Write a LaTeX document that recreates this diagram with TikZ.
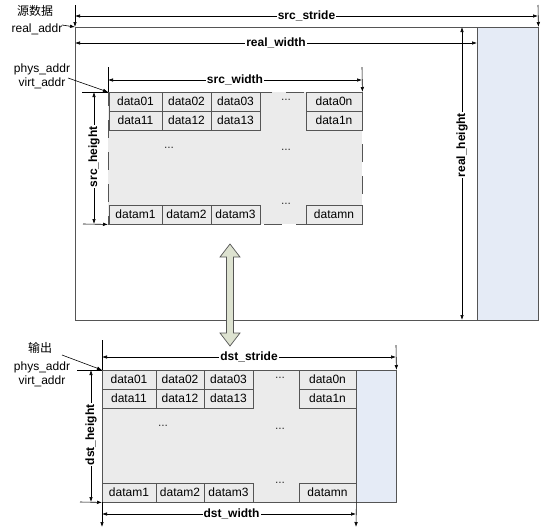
\documentclass[tikz,border=0pt]{standalone}
\usepackage{fontspec}
\setmainfont{Liberation Sans}
\newfontfamily\cjk{Noto Sans CJK SC}
\usetikzlibrary{arrows.meta}
\definecolor{regiongrey}{HTML}{EBEBEB}
\definecolor{padblue}{HTML}{E5EBF6}
\definecolor{edgegrey}{HTML}{555555}
\definecolor{arrowfill}{HTML}{DDE2D0}
\tikzset{
  cell/.style={draw=edgegrey, fill=regiongrey, inner sep=0pt, minimum height=19pt, font=\fontsize{12}{14}\selectfont},
  region/.style={fill=regiongrey, inner sep=0pt, anchor=north west},
  padbox/.style={draw=edgegrey, fill=padblue, inner sep=0pt, anchor=north west},
  dim/.style={draw=black, line width=0.6pt, {Latex[length=5pt,width=3.5pt]}-{Latex[length=5pt,width=3.5pt]}},
  ext/.style={draw=black, line width=0.6pt},
  exttip/.style={draw=black, line width=0.6pt, -{Latex[length=5pt,width=3.5pt]}},
  dimlbl/.style={fill=white, inner sep=1pt, font=\fontsize{12}{14}\selectfont\bfseries},
  txt/.style={inner sep=0pt, font=\fontsize{12}{14}\selectfont},
  dots/.style={inner sep=0pt, text=black!80, font=\fontsize{12}{14}\selectfont},
}
\begin{document}
\begin{tikzpicture}[x=1pt,y=-1pt]
\useasboundingbox (0,0) rectangle (548,531);

% ---------- source buffer ----------
\node[draw=edgegrey, fill=white, inner sep=0pt, anchor=north west, minimum width=463pt, minimum height=293pt] (outer) at (75,27) {};
\node[padbox, minimum width=61pt, minimum height=293pt] (srcpad) at (477,27) {};
\node[region, draw=edgegrey, dash pattern=on 18pt off 14pt, dash phase=4pt, minimum width=254pt, minimum height=132pt] (srcreg) at (108,92) {};

\node[cell, minimum width=53pt] (s01) at (135.5,101.5) {data01};
\node[cell, minimum width=49pt] (s02) at (186.5,101.5) {data02};
\node[cell, minimum width=49pt] (s03) at (235.5,101.5) {data03};
\node[cell, minimum width=56pt] (s0n) at (334,101.5) {data0n};
\node[cell, minimum width=53pt] (s11) at (135.5,120.5) {data11};
\node[cell, minimum width=49pt] (s12) at (186.5,120.5) {data12};
\node[cell, minimum width=49pt] (s13) at (235.5,120.5) {data13};
\node[cell, minimum width=56pt] (s1n) at (334,120.5) {data1n};
\node[cell, minimum width=53pt] (sm1) at (135.5,214.5) {datam1};
\node[cell, minimum width=49pt] (sm2) at (186.5,214.5) {datam2};
\node[cell, minimum width=49pt] (sm3) at (235.5,214.5) {datam3};
\node[cell, minimum width=56pt] (smn) at (334,214.5) {datamn};
\node[dots] (sd1) at (286,100) {...};
\node[dots] (sd2) at (169,148) {...};
\node[dots] (sd3) at (286,150) {...};
\node[dots] (sd4) at (286,204) {...};

% labels top-left
\node[txt] (srclbl) at (35,11) {\cjk 源数据};
\node[txt] (realaddr) at (37,29) {real\_addr};
\node[txt] (sphys) at (42,69) {phys\_addr};
\node[txt] (svirt) at (42,83) {virt\_addr};
\coordinate (ra0) at (62,25);
\draw[exttip] (ra0) -- (outer.north west);
\coordinate (sv0) at (68,78);
\draw[exttip] (sv0) -- (srcreg.north west);

% src_stride
\coordinate (ss1) at (75,5); \coordinate (ss2) at (538,5);
\coordinate (ssa) at (75,16); \coordinate (ssb) at (538,16);
\draw[exttip] (ss1) -- (outer.north west);
\draw[exttip] (ss2) -- (outer.north east);
\draw[dim] (ssa) -- (ssb) node[midway, dimlbl] (sslbl) {src\_stride};

% real_width
\coordinate (rwa) at (75,43); \coordinate (rwb) at (477,43);
\draw[dim] (rwa) -- (rwb) node[pos=0.5, dimlbl] (rwlbl) {real\_width};

% real_height
\coordinate (rha) at (462,27); \coordinate (rhb) at (462,320);
\draw[dim] (rha) -- (rhb) node[pos=0.403, dimlbl, rotate=90] (rhlbl) {real\_height};

% src_width
\coordinate (sw1) at (108,67); \coordinate (sw2) at (362,67);
\coordinate (swa) at (108,80); \coordinate (swb) at (362,80);
\draw[ext] (sw1) -- (srcreg.north west);
\draw[exttip] (sw2) -- (srcreg.north east);
\draw[dim] (swa) -- (swb) node[midway, dimlbl] (swlbl) {src\_width};

% src_height
\coordinate (sh1) at (82,92); \coordinate (sh2) at (83,224);
\coordinate (sha) at (94,92); \coordinate (shb) at (94,224);
\draw[ext] (sh1) -- (srcreg.north west);
\draw[exttip] (sh2) -- (srcreg.south west);
\draw[dim] (sha) -- (shb) node[pos=0.49, dimlbl, rotate=90] (shlbl) {src\_height};

% ---------- transfer arrow ----------
\draw[draw=edgegrey, fill=arrowfill, line width=0.7pt, line join=miter]
  (230,244) -- (240,257) -- (233.5,257) -- (233.5,333) -- (240,333) -- (230,346)
  -- (220,333) -- (226.5,333) -- (226.5,257) -- (220,257) -- cycle;

% ---------- destination buffer ----------
\node[region, draw=edgegrey, minimum width=254pt, minimum height=132pt] (dstreg) at (102,370) {};
\node[padbox, minimum width=40pt, minimum height=132pt] (dstpad) at (356,370) {};

\node[cell, minimum width=54pt] (d01) at (129,379.5) {data01};
\node[cell, minimum width=48pt] (d02) at (180,379.5) {data02};
\node[cell, minimum width=49pt] (d03) at (228.5,379.5) {data03};
\node[cell, minimum width=57pt] (d0n) at (327.5,379.5) {data0n};
\node[cell, minimum width=54pt] (d11) at (129,398.5) {data11};
\node[cell, minimum width=48pt] (d12) at (180,398.5) {data12};
\node[cell, minimum width=49pt] (d13) at (228.5,398.5) {data13};
\node[cell, minimum width=57pt] (d1n) at (327.5,398.5) {data1n};
\node[cell, minimum width=54pt] (dm1) at (129,492.5) {datam1};
\node[cell, minimum width=48pt] (dm2) at (180,492.5) {datam2};
\node[cell, minimum width=49pt] (dm3) at (228.5,492.5) {datam3};
\node[cell, minimum width=57pt] (dmn) at (327.5,492.5) {datamn};
\node[dots] (dd1) at (280,378) {...};
\node[dots] (dd2) at (163,426) {...};
\node[dots] (dd3) at (280,429) {...};
\node[dots] (dd4) at (280,483) {...};

\node[txt] (dstlbl) at (40,348) {\cjk 输出};
\node[txt] (dphys) at (42,367) {phys\_addr};
\node[txt] (dvirt) at (42,381) {virt\_addr};
\coordinate (dv0) at (62,355);
\draw[exttip] (dv0) -- (dstreg.north west);

% dst_stride
\coordinate (ds1) at (102,340); \coordinate (ds2) at (396,345);
\coordinate (dsa) at (102,357); \coordinate (dsb) at (396,357);
\draw[ext] (ds1) -- (dstreg.north west);
\draw[exttip] (ds2) -- (dstpad.north east);
\draw[dim] (dsa) -- (dsb) node[midway, dimlbl] (dslbl) {dst\_stride};

% dst_height
\coordinate (dh1) at (77,370); \coordinate (dh2) at (80,502);
\coordinate (dha) at (91,370); \coordinate (dhb) at (91,502);
\draw[ext] (dh1) -- (dstreg.north west);
\draw[exttip] (dh2) -- (dstreg.south west);
\draw[dim] (dha) -- (dhb) node[pos=0.49, dimlbl, rotate=90] (dhlbl) {dst\_height};

% dst_width
\coordinate (dw1) at (102,527); \coordinate (dw2) at (356,527);
\coordinate (dwa) at (102,514); \coordinate (dwb) at (356,514);
\draw[exttip] (dstreg.south west) -- (dw1);
\draw[exttip] (dstreg.south east) -- (dw2);
\draw[dim] (dwa) -- (dwb) node[pos=0.51, dimlbl] (dwlbl) {dst\_width};
\end{tikzpicture}
\end{document}
